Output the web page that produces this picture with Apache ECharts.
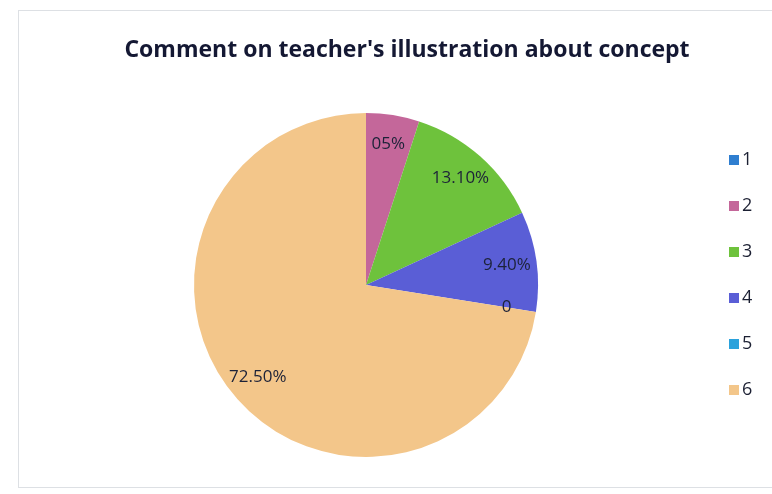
<!DOCTYPE html>
<html>
<head>
<meta charset="utf-8">
<title>Comment on teacher's illustration about concept</title>
<script src="https://cdn.jsdelivr.net/npm/echarts@6/dist/echarts.min.js"></script>
<style>
  html, body { margin: 0; padding: 0; background: #ffffff; }
  #frame { position: absolute; left: 18px; top: 10px; width: 800px; height: 476px; border: 1px solid #dde0e4; }
  #chart { position: absolute; left: 0; top: 0; width: 772px; height: 494px; }
</style>
</head>
<body>
<div id="frame"></div>
<div id="chart"></div>
<script>
// ── Data ────────────────────────────────────────────────────────────────────
var categories = ['1', '2', '3', '4', '5', '6'];
var values     = [0, 5, 13.1, 9.4, 0, 72.5];
var labelTexts = ['', '05%', '13.10%', '9.40%', '0', '72.50%'];
var colors     = ['#2f7ed0', '#c4679a', '#6ec23c', '#5a5ed6', '#2aa2dc', '#f3c68a'];

// ── Chart ───────────────────────────────────────────────────────────────────
var chart = echarts.init(document.getElementById('chart'), null, { renderer: 'canvas' });

var center = [366, 285];
var radius = 172;

var pieData = categories.map(function(name, i) {
  return { name: name, value: values[i], itemStyle: { color: colors[i] } };
});

var labelData = categories.map(function(name, i) {
  return {
    name: name,
    value: values[i],
    label: { show: labelTexts[i] !== '', formatter: labelTexts[i] }
  };
});

chart.setOption({
  backgroundColor: 'transparent',
  animation: false,
  title: {
    text: "Comment on teacher's illustration about concept",
    left: 402,
    top: 34,
    textAlign: 'center',
    textStyle: { fontFamily: "'Open Sans', sans-serif", fontWeight: 'bold', fontSize: 23, color: '#141833' }
  },
  legend: {
    orient: 'vertical',
    left: 724,
    top: 146,
    itemWidth: 10,
    itemHeight: 10,
    itemGap: 28,
    icon: 'rect',
    data: categories.map(function(name, i) {
      return { name: name, itemStyle: { color: colors[i] } };
    }),
    textStyle: { fontFamily: "'Open Sans', sans-serif", fontSize: 18, color: '#1c2033', padding: [0, 0, 0, -2] }
  },
  series: [{
    type: 'pie',
    center: center,
    radius: radius,
    startAngle: 90,
    clockwise: true,
    silent: true,
    data: pieData,
    label: { show: false },
    labelLine: { show: false },
    itemStyle: { borderWidth: 0 }
  }, {
    // transparent overlay only to place data labels toward the rim
    type: 'pie',
    center: center,
    radius: [radius * 0.62, radius],
    startAngle: 90,
    clockwise: true,
    silent: true,
    data: labelData,
    itemStyle: { color: 'transparent', borderWidth: 0 },
    label: {
      position: 'inside',
      fontFamily: "'Open Sans', sans-serif",
      fontSize: 17,
      color: '#1c2238'
    },
    labelLine: { show: false }
  }]
});
</script>
</body>
</html>
